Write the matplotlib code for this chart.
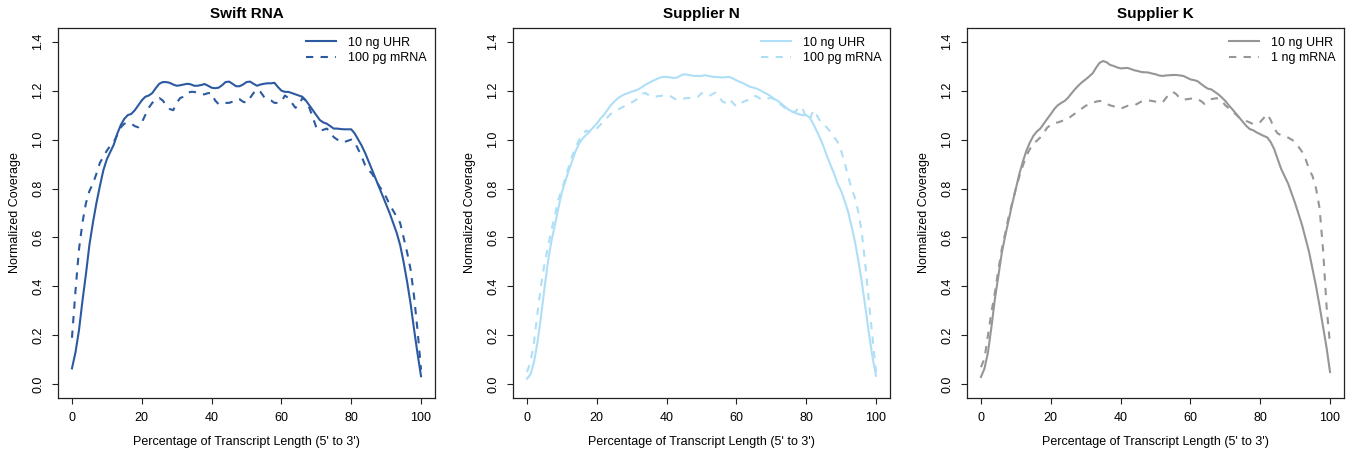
import matplotlib
matplotlib.use("Agg")
import matplotlib.pyplot as plt

plt.rcParams['font.family'] = ['Liberation Sans', 'DejaVu Sans']

pct = list(range(101))

swift_uhr = [0.065, 0.13, 0.22, 0.34, 0.45, 0.57, 0.66, 0.74, 0.81, 0.875,
             0.92, 0.95, 0.98, 1.025, 1.06, 1.085, 1.10, 1.105, 1.12, 1.14,
             1.16, 1.175, 1.18, 1.19, 1.21, 1.228, 1.235, 1.235, 1.232, 1.225,
             1.22, 1.222, 1.225, 1.228, 1.226, 1.22, 1.22, 1.223, 1.227, 1.22,
             1.212, 1.21, 1.212, 1.222, 1.235, 1.237, 1.228, 1.218, 1.218, 1.225,
             1.235, 1.237, 1.228, 1.22, 1.225, 1.228, 1.23, 1.23, 1.232, 1.215,
             1.2, 1.195, 1.195, 1.19, 1.185, 1.18, 1.175, 1.16, 1.14, 1.12,
             1.1, 1.08, 1.07, 1.065, 1.055, 1.045, 1.045, 1.043, 1.042, 1.042,
             1.042, 1.025, 1.0, 0.975, 0.945, 0.91, 0.875, 0.84, 0.805, 0.77,
             0.735, 0.70, 0.66, 0.62, 0.57, 0.50, 0.42, 0.33, 0.225, 0.125,
             0.033]
swift_mrna = [0.19, 0.38, 0.55, 0.66, 0.74, 0.79, 0.82, 0.86, 0.905, 0.93,
              0.955, 0.975, 0.99, 1.02, 1.05, 1.065, 1.07, 1.065, 1.055, 1.05,
              1.07, 1.10, 1.13, 1.15, 1.165, 1.17, 1.16, 1.14, 1.125, 1.12,
              1.15, 1.17, 1.175, 1.19, 1.195, 1.195, 1.19, 1.185, 1.185, 1.19,
              1.19, 1.16, 1.145, 1.15, 1.15, 1.15, 1.155, 1.165, 1.165, 1.155,
              1.15, 1.17, 1.19, 1.205, 1.195, 1.175, 1.165, 1.16, 1.15, 1.15,
              1.155, 1.18, 1.17, 1.15, 1.13, 1.14, 1.17, 1.16, 1.13, 1.09,
              1.05, 1.035, 1.04, 1.045, 1.03, 1.01, 1.0, 0.99, 0.99, 0.995,
              1.0, 0.99, 0.96, 0.93, 0.895, 0.875, 0.86, 0.835, 0.81, 0.79,
              0.765, 0.735, 0.71, 0.685, 0.66, 0.60, 0.54, 0.47, 0.36, 0.22,
              0.06]

supn_uhr = [0.023, 0.04, 0.09, 0.17, 0.275, 0.39, 0.50, 0.585, 0.65, 0.72,
            0.785, 0.83, 0.875, 0.915, 0.955, 0.985, 1.005, 1.02, 1.035, 1.05,
            1.065, 1.085, 1.1, 1.12, 1.14, 1.155, 1.168, 1.178, 1.185, 1.19,
            1.196, 1.2, 1.206, 1.215, 1.225, 1.232, 1.24, 1.246, 1.253, 1.256,
            1.256, 1.254, 1.252, 1.253, 1.262, 1.267, 1.265, 1.262, 1.26, 1.26,
            1.26, 1.263, 1.26, 1.257, 1.256, 1.255, 1.254, 1.255, 1.256, 1.25,
            1.242, 1.236, 1.23, 1.222, 1.215, 1.212, 1.207, 1.2, 1.192, 1.185,
            1.175, 1.165, 1.157, 1.145, 1.133, 1.122, 1.115, 1.108, 1.103, 1.1,
            1.1, 1.09, 1.065, 1.035, 1.005, 0.97, 0.93, 0.895, 0.86, 0.82,
            0.79, 0.75, 0.705, 0.645, 0.58, 0.50, 0.41, 0.31, 0.205, 0.11,
            0.035]
supn_mrna = [0.05, 0.09, 0.17, 0.29, 0.40, 0.49, 0.56, 0.63, 0.69, 0.755,
             0.795, 0.845, 0.89, 0.935, 0.97, 1.0, 1.025, 1.037, 1.03, 1.035,
             1.045, 1.06, 1.078, 1.09, 1.105, 1.115, 1.122, 1.13, 1.137, 1.145,
             1.152, 1.16, 1.172, 1.188, 1.19, 1.18, 1.174, 1.176, 1.178, 1.18,
             1.183, 1.178, 1.17, 1.161, 1.163, 1.168, 1.17, 1.169, 1.17, 1.175,
             1.19, 1.185, 1.176, 1.185, 1.192, 1.175, 1.155, 1.15, 1.165, 1.15,
             1.135, 1.145, 1.155, 1.16, 1.17, 1.18, 1.175, 1.165, 1.162, 1.168,
             1.172, 1.16, 1.15, 1.14, 1.128, 1.117, 1.112, 1.115, 1.135, 1.125,
             1.09, 1.08, 1.12, 1.1, 1.075, 1.062, 1.048, 1.03, 1.01, 0.99,
             0.955, 0.905, 0.85, 0.80, 0.76, 0.70, 0.61, 0.48, 0.33, 0.19,
             0.05]

supk_uhr = [0.03, 0.064, 0.13, 0.234, 0.35, 0.444, 0.54, 0.61, 0.675, 0.74,
            0.80, 0.86, 0.91, 0.954, 0.988, 1.015, 1.033, 1.045, 1.065, 1.085,
            1.104, 1.125, 1.14, 1.15, 1.158, 1.172, 1.19, 1.207, 1.222, 1.235,
            1.246, 1.258, 1.271, 1.294, 1.314, 1.321, 1.316, 1.305, 1.301, 1.295,
            1.291, 1.292, 1.293, 1.288, 1.283, 1.28, 1.276, 1.275, 1.274, 1.27,
            1.267, 1.262, 1.26, 1.262, 1.263, 1.264, 1.264, 1.262, 1.26, 1.253,
            1.246, 1.243, 1.239, 1.228, 1.217, 1.208, 1.205, 1.195, 1.185, 1.172,
            1.158, 1.14, 1.124, 1.107, 1.09, 1.073, 1.056, 1.043, 1.038, 1.029,
            1.022, 1.015, 1.009, 0.99, 0.961, 0.92, 0.88, 0.85, 0.82, 0.78,
            0.74, 0.695, 0.65, 0.595, 0.54, 0.47, 0.40, 0.32, 0.235, 0.15,
            0.05]
supk_mrna = [0.07, 0.105, 0.2, 0.295, 0.376, 0.47, 0.555, 0.62, 0.69, 0.744,
             0.8, 0.85, 0.893, 0.934, 0.961, 0.985, 0.995, 1.009, 1.029, 1.049,
             1.06, 1.068, 1.07, 1.075, 1.081, 1.085, 1.097, 1.107, 1.117, 1.128,
             1.138, 1.145, 1.15, 1.155, 1.158, 1.155, 1.146, 1.14, 1.136, 1.13,
             1.126, 1.132, 1.138, 1.138, 1.14, 1.148, 1.156, 1.16, 1.16, 1.158,
             1.155, 1.152, 1.151, 1.17, 1.188, 1.195, 1.185, 1.168, 1.163, 1.165,
             1.167, 1.169, 1.165, 1.158, 1.146, 1.155, 1.165, 1.168, 1.169, 1.158,
             1.14, 1.128, 1.117, 1.103, 1.09, 1.083, 1.076, 1.07, 1.063, 1.065,
             1.072, 1.088, 1.104, 1.08, 1.045, 1.025, 1.018, 1.012, 1.008, 1.0,
             0.99, 0.97, 0.95, 0.92, 0.88, 0.85, 0.80, 0.72, 0.55, 0.32,
             0.16]

titles = ['Swift RNA', 'Supplier N', 'Supplier K']
colors = ['#2C5AA0', '#AEDFF7', '#969696']
labels = [['10 ng UHR', '100 pg mRNA'],
          ['10 ng UHR', '100 pg mRNA'],
          ['10 ng UHR', '1 ng mRNA']]
series = [(swift_uhr, swift_mrna), (supn_uhr, supn_mrna), (supk_uhr, supk_mrna)]
lefts = [58, 513, 967]

fig = plt.figure(figsize=(13.46, 4.5), dpi=100)

for i in range(3):
    ax = fig.add_axes([lefts[i] / 1346, 1 - 398 / 450, 377 / 1346, 370 / 450])
    solid, dashed = series[i]
    ax.plot(pct, solid, color=colors[i], lw=1.5, label=labels[i][0])
    ax.plot(pct, dashed, color=colors[i], lw=1.5, dashes=(3.5, 3.5), label=labels[i][1])
    ax.set_xlim(-4, 104)
    ax.set_ylim(-0.056, 1.456)
    ax.set_xticks([0, 20, 40, 60, 80, 100])
    ax.set_yticks([0.0, 0.2, 0.4, 0.6, 0.8, 1.0, 1.2, 1.4])
    ax.set_yticklabels(['0.0', '0.2', '0.4', '0.6', '0.8', '1.0', '1.2', '1.4'],
                       rotation=90, va='center')
    ax.tick_params(direction='out', length=4, width=0.8, labelsize=9, pad=6,
                   color='#222222')
    for s in ax.spines.values():
        s.set_linewidth(0.9)
        s.set_color('#222222')
    ax.set_title(titles[i], fontsize=11, fontweight='bold', pad=7)
    ax.set_xlabel("Percentage of Transcript Length (5' to 3')", fontsize=9, labelpad=9)
    ax.set_ylabel('Normalized Coverage', fontsize=9, labelpad=8)
    ax.legend(loc='upper right', frameon=False, fontsize=9, handlelength=2.4,
              borderaxespad=0.3, labelspacing=0.25, handletextpad=0.9)

fig.savefig('out.png', dpi=100)
